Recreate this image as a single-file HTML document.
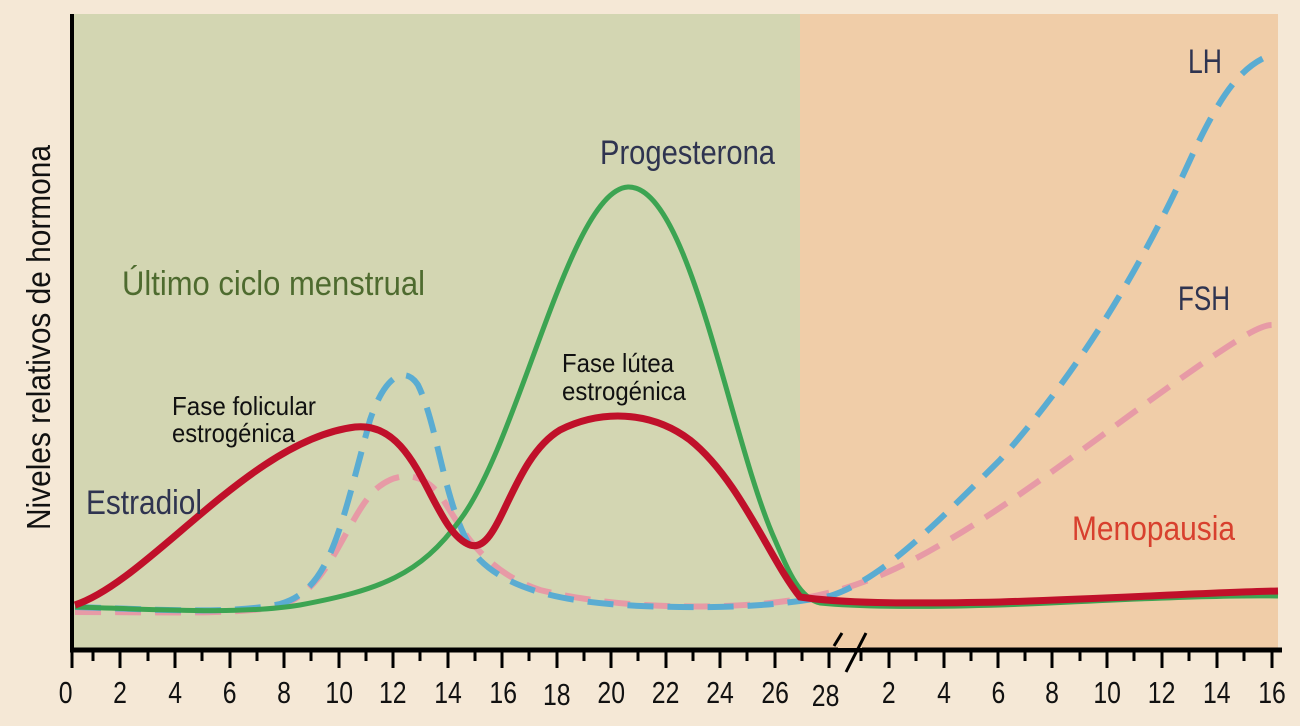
<!DOCTYPE html>
<html><head><meta charset="utf-8"><style>
html,body{margin:0;padding:0;background:#f5e8d6;}
svg{display:block;}
text{font-family:"Liberation Sans Narrow","Liberation Sans",sans-serif;}
</style></head><body>
<svg width="1300" height="726" viewBox="0 0 1300 726" xmlns="http://www.w3.org/2000/svg">
<rect x="0" y="0" width="1300" height="726" fill="#f5e8d6"/>
<rect x="74" y="14" width="726" height="634" fill="#d3d6b2"/>
<rect x="800" y="14" width="478" height="634" fill="#f0cda8"/>
<line x1="72" y1="14" x2="72" y2="652" stroke="#000" stroke-width="4"/>
<line x1="70" y1="650" x2="1282" y2="650" stroke="#000" stroke-width="5"/>
<g stroke="#000" stroke-width="3">
<line x1="72" y1="650" x2="72" y2="668"/>
<line x1="93" y1="650" x2="93" y2="661"/>
<line x1="120" y1="650" x2="120" y2="668"/>
<line x1="148" y1="650" x2="148" y2="661"/>
<line x1="175" y1="650" x2="175" y2="668"/>
<line x1="202" y1="650" x2="202" y2="661"/>
<line x1="230" y1="650" x2="230" y2="668"/>
<line x1="257" y1="650" x2="257" y2="661"/>
<line x1="284" y1="650" x2="284" y2="668"/>
<line x1="311" y1="650" x2="311" y2="661"/>
<line x1="339" y1="650" x2="339" y2="668"/>
<line x1="366" y1="650" x2="366" y2="661"/>
<line x1="393" y1="650" x2="393" y2="668"/>
<line x1="420" y1="650" x2="420" y2="661"/>
<line x1="448" y1="650" x2="448" y2="668"/>
<line x1="475" y1="650" x2="475" y2="661"/>
<line x1="502" y1="650" x2="502" y2="668"/>
<line x1="529" y1="650" x2="529" y2="661"/>
<line x1="557" y1="650" x2="557" y2="668"/>
<line x1="584" y1="650" x2="584" y2="661"/>
<line x1="611" y1="650" x2="611" y2="668"/>
<line x1="638" y1="650" x2="638" y2="661"/>
<line x1="666" y1="650" x2="666" y2="668"/>
<line x1="693" y1="650" x2="693" y2="661"/>
<line x1="720" y1="650" x2="720" y2="668"/>
<line x1="747" y1="650" x2="747" y2="661"/>
<line x1="775" y1="650" x2="775" y2="668"/>
<line x1="802" y1="650" x2="802" y2="661"/>
<line x1="829" y1="650" x2="829" y2="668"/>
<line x1="861" y1="650" x2="861" y2="661"/>
<line x1="889" y1="650" x2="889" y2="668"/>
<line x1="916" y1="650" x2="916" y2="661"/>
<line x1="944" y1="650" x2="944" y2="668"/>
<line x1="971" y1="650" x2="971" y2="661"/>
<line x1="998" y1="650" x2="998" y2="668"/>
<line x1="1025" y1="650" x2="1025" y2="661"/>
<line x1="1052" y1="650" x2="1052" y2="668"/>
<line x1="1080" y1="650" x2="1080" y2="661"/>
<line x1="1107" y1="650" x2="1107" y2="668"/>
<line x1="1134" y1="650" x2="1134" y2="661"/>
<line x1="1162" y1="650" x2="1162" y2="668"/>
<line x1="1189" y1="650" x2="1189" y2="661"/>
<line x1="1217" y1="650" x2="1217" y2="668"/>
<line x1="1244" y1="650" x2="1244" y2="661"/>
<line x1="1272" y1="650" x2="1272" y2="668"/>
</g>
<rect x="838" y="636" width="24" height="12" fill="#f0cda8"/>
<line x1="834" y1="646" x2="842" y2="633" stroke="#000" stroke-width="3"/>
<line x1="846" y1="672" x2="866" y2="633" stroke="#000" stroke-width="3"/>
<g font-size="31" fill="#111" text-anchor="middle" transform="scale(0.8,1)">
<text x="82" y="703">0</text><text x="150" y="703">2</text><text x="219" y="703">4</text>
<text x="287" y="703">6</text><text x="355" y="703">8</text><text x="424" y="703">10</text>
<text x="491" y="703">12</text><text x="560" y="703">14</text><text x="629" y="703">16</text>
<text x="696" y="705">18</text><text x="764" y="703">20</text><text x="832" y="703">22</text>
<text x="900" y="703">24</text><text x="969" y="703">26</text><text x="1032" y="706">28</text>
<text x="1111" y="703">2</text><text x="1180" y="703">4</text><text x="1248" y="703">6</text>
<text x="1315" y="703">8</text><text x="1384" y="703">10</text><text x="1452" y="703">12</text>
<text x="1521" y="703">14</text><text x="1590" y="703">16</text>
</g>
<path d="M75,612 C160,612 240,615 280,606 C330,590 345,520 375,490 C395,472 420,470 440,495 C460,525 480,570 540,590 C600,605 680,610 760,604 C830,598 880,580 940,545 C1020,500 1120,420 1200,365 C1240,338 1260,325 1272,325" fill="none" stroke="#e79aa6" stroke-width="6" stroke-dasharray="26,14"/>
<path d="M75,607 C150,609 230,615 280,604 C330,590 340,530 370,420 C385,375 405,365 418,385 C440,430 445,520 480,560 C520,600 600,606 680,607 C740,608 790,604 830,596 C880,580 930,530 1000,460 C1080,370 1140,270 1190,160 C1220,95 1240,68 1268,56" fill="none" stroke="#5aacd2" stroke-width="6" stroke-dasharray="26,14"/>
<path d="M75,607 C150,609 240,615 300,605 C380,590 420,575 460,520 C520,440 570,190 628,187 C690,185 730,440 775,540 C790,575 800,598 820,603 C870,608 960,607 1050,603 C1150,598 1230,595 1278,596" fill="none" stroke="#3ca452" stroke-width="5"/>
<path d="M75,605 C150,580 250,440 355,427 C420,420 430,530 470,545 C500,555 510,460 560,430 C600,410 650,410 690,440 C740,480 770,560 800,597 C840,603 900,604 1000,602 C1120,598 1220,592 1278,591" fill="none" stroke="#c0102a" stroke-width="7"/>
<text x="122" y="295" font-size="34" fill="#4e6b2f" textLength="303" lengthAdjust="spacingAndGlyphs">Último ciclo menstrual</text>
<text x="600" y="164" font-size="34" fill="#2f3450" textLength="175" lengthAdjust="spacingAndGlyphs">Progesterona</text>
<text x="1188" y="73" font-size="34" fill="#2f3450" textLength="34" lengthAdjust="spacingAndGlyphs">LH</text>
<text x="1178" y="310" font-size="34" fill="#2f3450" textLength="52" lengthAdjust="spacingAndGlyphs">FSH</text>
<text x="1072" y="540" font-size="34" fill="#d8402e" textLength="163" lengthAdjust="spacingAndGlyphs">Menopausia</text>
<text x="86" y="514" font-size="34" fill="#2f3450" textLength="116" lengthAdjust="spacingAndGlyphs">Estradiol</text>
<text x="172" y="415" font-size="26" fill="#111" textLength="144" lengthAdjust="spacingAndGlyphs">Fase folicular</text>
<text x="172" y="442" font-size="26" fill="#111" textLength="123" lengthAdjust="spacingAndGlyphs">estrogénica</text>
<text x="562" y="372" font-size="26" fill="#111" textLength="112" lengthAdjust="spacingAndGlyphs">Fase lútea</text>
<text x="562" y="400" font-size="26" fill="#111" textLength="124" lengthAdjust="spacingAndGlyphs">estrogénica</text>
<text transform="translate(50,530) rotate(-90)" font-size="33" fill="#111" textLength="385" lengthAdjust="spacingAndGlyphs">Niveles relativos de hormona</text>
</svg>
</body></html>
